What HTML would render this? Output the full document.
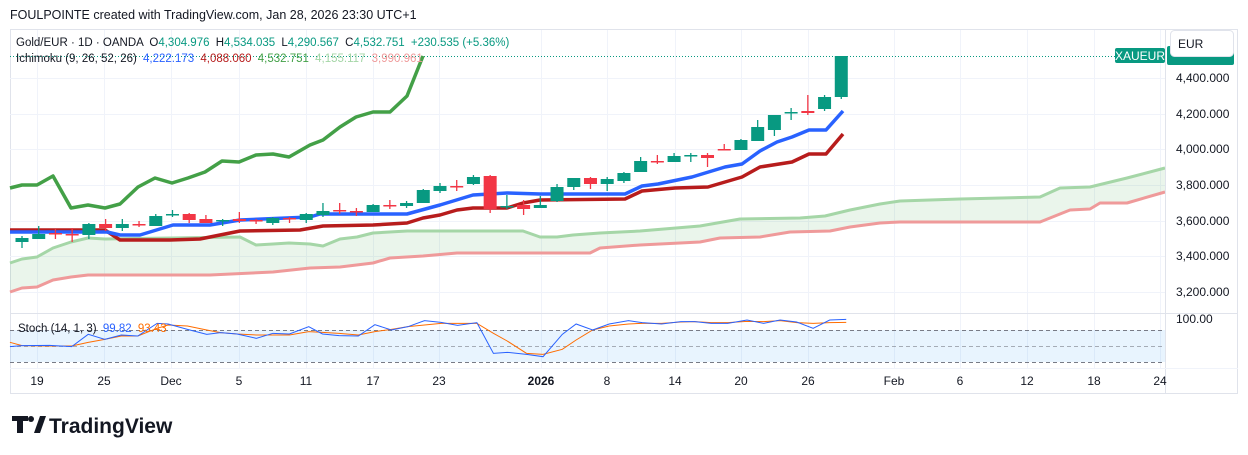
<!DOCTYPE html>
<html><head><meta charset="utf-8"><style>
html,body{margin:0;padding:0;background:#fff;width:1248px;height:455px;overflow:hidden;font-family:"Liberation Sans",sans-serif;color:#131722}
svg{position:absolute;left:0;top:0}
</style></head><body>
<svg id="s" width="1248" height="455" xmlns="http://www.w3.org/2000/svg" font-family="Liberation Sans, sans-serif">
<text x="10" y="19" font-size="12.5" fill="#131722">FOULPOINTE created with TradingView.com, Jan 28, 2026 23:30 UTC+1</text>
<rect x="10.5" y="29.5" width="1227" height="364" fill="none" stroke="#e0e3eb"/>
<g id="grid" stroke="#f0f3fa" stroke-width="1"></g>
<polygon id="cloud" fill="rgba(67,160,71,0.11)"/>
<rect x="10" y="330" width="1155" height="32" fill="rgba(33,150,243,0.1)"/>
<g stroke="#787b86" stroke-dasharray="4,3" stroke-width="1">
<line x1="10" y1="330.5" x2="1165" y2="330.5"/><line x1="10" y1="346.5" x2="1165" y2="346.5" stroke-opacity="0.6"/><line x1="10" y1="362.5" x2="1165" y2="362.5"/>
</g>
<line x1="10" y1="56.5" x2="1115" y2="56.5" stroke="#089981" stroke-dasharray="1,2"/>
<polyline id="sa" fill="none" stroke="#a5d6a7" stroke-width="3" stroke-linejoin="round"/>
<polyline id="sb" fill="none" stroke="#ef9a9a" stroke-width="3" stroke-linejoin="round"/>
<polyline id="ch" fill="none" stroke="#43a047" stroke-width="3.5" stroke-linejoin="round"/>
<polyline id="kj" fill="none" stroke="#b71c1c" stroke-width="3.5" stroke-linejoin="round"/>
<polyline id="tk" fill="none" stroke="#2962ff" stroke-width="3.5" stroke-linejoin="round"/>
<g id="cd"></g>
<g transform="translate(0,310) scale(0.5513,0.3333)">
<polyline id="sd" fill="none" stroke="#ff6d00" stroke-width="1" vector-effect="non-scaling-stroke"/>
<polyline id="sk" fill="none" stroke="#2962ff" stroke-width="1" vector-effect="non-scaling-stroke"/>
</g>
<line x1="1165.5" y1="30" x2="1165.5" y2="393" stroke="#e0e3eb"/>
<line x1="10" y1="313.5" x2="1238" y2="313.5" stroke="#e0e3eb"/>
<line x1="10" y1="368.5" x2="1238" y2="368.5" stroke="#f0f3fa"/>
<g font-size="12" fill="#131722" id="pl"></g>
<text x="1176" y="323" font-size="12" fill="#131722">100.00</text>
<g font-size="12" fill="#131722" text-anchor="middle" id="tl"></g>
<rect x="1115" y="48" width="50" height="15" rx="2" fill="#089981"/>
<text x="1140" y="60" font-size="12" fill="#fff" text-anchor="middle">XAUEUR</text>
<rect x="1167" y="46" width="67" height="19" rx="2" fill="#089981"/>
<rect x="1170.5" y="30.5" width="63" height="26" rx="4" fill="#fff" stroke="#e0e3eb"/>
<text x="1178" y="48" font-size="12" fill="#131722">EUR</text>
<text x="16" y="46" font-size="11.5" fill="#131722">Gold/EUR · 1D · OANDA <tspan dx="3">O</tspan><tspan fill="#089981">4,304.976</tspan> <tspan dx="3">H</tspan><tspan fill="#089981">4,534.035</tspan> <tspan dx="3">L</tspan><tspan fill="#089981">4,290.567</tspan> <tspan dx="3">C</tspan><tspan fill="#089981">4,532.751</tspan> <tspan dx="3" fill="#089981">+230.535 (+5.36%)</tspan></text>
<text x="16" y="62" font-size="11.5" fill="#131722">Ichimoku (9, 26, 52, 26) <tspan dx="3" fill="#2962ff">4,222.173</tspan> <tspan dx="3" fill="#b71c1c">4,088.060</tspan> <tspan dx="3" fill="#43a047">4,532.751</tspan> <tspan dx="3" fill="#a5d6a7">4,155.117</tspan> <tspan dx="3" fill="#ef9a9a">3,990.961</tspan></text>
<text x="18" y="332" font-size="11.5" fill="#131722">Stoch (14, 1, 3) <tspan dx="3" fill="#2962ff">99.82</tspan> <tspan dx="3" fill="#ff6d00">93.43</tspan></text>
<g fill="#131722">
<path d="M12 416h16v5h-5v12h-6v-12h-5z"/>
<circle cx="31" cy="419" r="3"/>
<path d="M34 433l6-17h6l-6 17z"/>
</g>
<text x="49" y="433" font-size="21" font-weight="bold" fill="#131722">TradingView</text>
</svg>
<script>
var NS="http://www.w3.org/2000/svg",s=document.getElementById('s');
function el(t,a,p){var e=document.createElementNS(NS,t);for(var k in a)e.setAttribute(k,a[k]);(p||s).appendChild(e);return e}
var xs=[37,104,171,239,306,373,439,541,607,675,741,808,894,960,1027,1094,1160],lb=["19","25","Dec","5","11","17","23","2026","8","14","20","26","Feb","6","12","18","24"];
var g=document.getElementById('grid');
xs.forEach(function(x,i){el('line',{x1:x+.5,y1:30,x2:x+.5,y2:368},g);var t=el('text',{x:x,y:385},document.getElementById('tl'));t.textContent=lb[i];if(lb[i]=="2026")t.setAttribute('font-weight','bold')});
var pys=[78,114,149,185,221,256,292],pv=["4,400.000","4,200.000","4,000.000","3,800.000","3,600.000","3,400.000","3,200.000"];
pys.forEach(function(y,i){el('line',{x1:10,y1:y+.5,x2:1165,y2:y+.5},g);var t=el('text',{x:1176,y:y+4},document.getElementById('pl'));t.textContent=pv[i]});
function pts(a){return a.map(function(p){return p.join(',')}).join(' ')}
var A=[[10,263],[22,259],[37,257],[53,248],[71,242],[88,238],[105,239],[240,237],[256,245],[273,244],[289,243],[310,244],[323,246],[340,239],[357,237],[373,233],[407,231],[523,231],[540,237],[557,237],[573,235],[600,233],[640,231],[700,226],[740,219],[800,218],[825,216],[850,210],[880,204],[900,201],[960,199],[1040,197],[1060,188],[1090,187],[1127,178],[1165,168]];
var B=[[10,292],[22,288],[37,287],[53,280],[71,277],[88,275],[210,275],[273,272],[310,268],[340,267],[373,263],[390,258],[423,256],[457,253],[590,253],[600,248],[640,245],[700,242],[720,238],[760,237],[790,232],[830,231],[850,227],[880,223],[900,222],[1040,222],[1050,218],[1070,210],[1090,209],[1100,203],[1127,203],[1165,192]];
document.getElementById('sa').setAttribute('points',pts(A));
document.getElementById('sb').setAttribute('points',pts(B));
document.getElementById('cloud').setAttribute('points',pts(A.concat(B.slice().reverse())));
document.getElementById('ch').setAttribute('points',pts([[10,188],[22,185],[37,185],[53,176],[71,208],[88,205],[105,208],[120,204],[138,187],[155,178],[172,183],[188,178],[205,172],[222,161],[239,162],[256,155],[273,154],[289,157],[310,145],[323,140],[340,127],[356,117],[373,112],[390,112],[407,96],[423,56]]));
document.getElementById('tk').setAttribute('points',pts([[10,232],[107,232],[120,235],[140,235],[173,225],[210,225],[240,220],[310,217],[320,214],[407,214],[440,205],[473,195],[507,193],[540,194],[625,194],[642,186],[658,184],[692,177],[725,167],[742,164],[760,151],[777,142],[792,137],[809,130],[826,130],[843,111]]));
document.getElementById('kj').setAttribute('points',pts([[10,230],[105,230],[120,240],[170,240],[200,239],[240,231],[300,230],[323,226],[373,225],[407,223],[423,218],[440,215],[457,210],[473,208],[507,208],[523,203],[540,200],[625,199],[642,191],[675,188],[708,187],[742,177],[760,167],[792,162],[809,154],[826,154],[843,134]]));
// candles: [open y, close y, high y, low y]
var C=[[242,238,236,248],[239,234,226,239],[233,233.5,229,239],[234,234.5,228,242],[235,224,223,239],[224,228,219,231],[228,224,219,231],[224,224.5,221,227],[226,216,214,226],[214,214.5,210,217],[214,220,213,223],[219,223,215,223],[221,220,219,226],[219,221,212,223],[220,220.5,219,224],[223,218,217,225],[218,219,217,223],[220,214,213,223],[215,211,203,217],[210,210.5,203,214],[211,212,208,216],[212,205,204,212],[205,205.5,200,209],[206,203,201,208],[203,190,189,203],[191,186,183,193],[186,186.5,180,191],[184,177,175,185],[176,209,175,213],[207,206,195,209],[205,209,200,215],[208,205,196,208],[201,187,184,202],[187,178,178,190],[178,184,177,189],[184,179,177,191],[181,173,172,183],[172,161,157,172],[161,161.5,155,164],[162,156,153,162],[155,155.5,153,162],[155,158,153,167],[149,149.5,144,150],[150,140,139,150],[141,127,120,141],[130,115,115,136],[112,112.5,108,120],[111,113,95,115],[109,97,95,111],[97,56,56,99]];
var cd=document.getElementById('cd');
C.forEach(function(c,i){var x=22+16.72*i,up=c[1]<c[0]||(c[1]-c[0]<1&&i!=2&&i!=3&&[7,13,14,16,19,22,26,38,42].indexOf(i)<0);
if([2,3,7,19,22,26,38,42].indexOf(i)>=0)up=false;
var col=up?'#089981':'#f23645';
el('line',{x1:x,y1:c[2],x2:x,y2:c[3],stroke:col,'stroke-width':1.3},cd);
var t=Math.min(c[0],c[1]),h=Math.max(1.5,Math.abs(c[1]-c[0]));
el('rect',{x:x-6.5,y:t,width:13,height:h,fill:col},cd)});
document.getElementById('sk').setAttribute('points',"18,110 40,107 90,106 130,110 160,73 190,88 220,75 250,78 285,40 305,42 340,58 375,73 400,68 430,72 465,85 495,70 525,72 560,50 585,72 615,77 650,78 680,44 710,60 740,50 770,32 800,37 830,46 865,38 895,130 920,127 955,133 985,140 1020,73 1045,42 1075,60 1105,42 1140,32 1165,38 1200,42 1235,35 1260,35 1290,40 1320,40 1355,30 1385,40 1415,30 1445,36 1475,55 1505,30 1535,28");
document.getElementById('sd').setAttribute('points',"18,97 40,107 90,108 130,108 160,97 190,88 220,78 250,78 285,55 305,45 340,48 375,60 400,68 430,72 465,75 495,75 525,75 560,65 585,67 615,70 650,75 680,65 710,58 740,50 770,45 800,40 830,40 865,40 895,70 920,93 955,130 985,133 1020,118 1045,90 1075,60 1105,48 1140,42 1165,40 1200,40 1235,36 1260,35 1290,38 1320,38 1355,34 1385,35 1415,32 1445,38 1475,40 1505,38 1535,37");
</script>
</body></html>
